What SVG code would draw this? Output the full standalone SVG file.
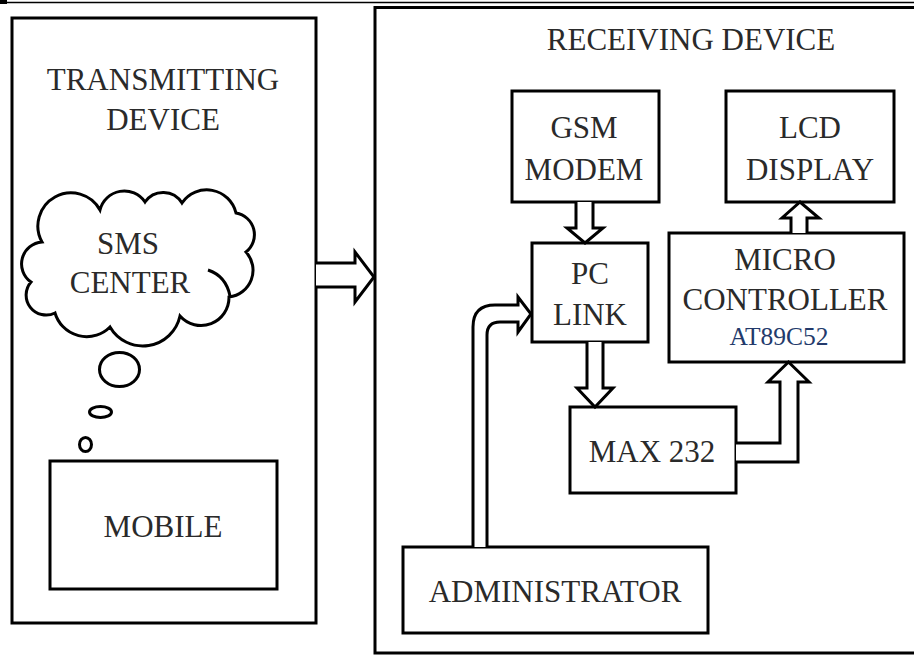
<svg xmlns="http://www.w3.org/2000/svg" width="914" height="655" viewBox="0 0 914 655">
<style>
.box{fill:none;stroke:#000;stroke-width:3}
.arr{fill:#fff;stroke:#000;stroke-width:3;stroke-linejoin:miter}
.t{font-size:31px;fill:#2a2a2a;text-anchor:middle}
.s{font-size:25.5px;fill:#233a6b;text-anchor:middle}
</style>
<rect width="914" height="655" fill="#fff"/>
<line x1="0" y1="2.5" x2="914" y2="2.5" stroke="#000" stroke-width="1.5"/>
<rect x="0" y="0" width="7" height="4" fill="#000"/>

<g id="transmitting-device" font-family="Liberation Serif, Times New Roman, serif">
<rect class="box" x="12" y="18" width="304" height="605"/>
<text class="t" x="163" y="90">TRANSMITTING</text>
<text class="t" x="163" y="130">DEVICE</text>
</g>

<g id="sms-center" font-family="Liberation Serif, Times New Roman, serif">
<path class="box" stroke-width="2.8" fill="#fff" d="M42,242 A33,33 0 0 1 100,210 A25,25 0 0 1 145,202 A22,22 0 0 1 182,203 A30,30 0 0 1 236,213 A22,22 0 0 1 246,252 A27,27 0 0 1 229,297 A28,28 0 0 1 180,316 A38,38 0 0 1 110,327 A33,33 0 0 1 55,313 A20,20 0 0 1 31,282 A22,22 0 0 1 42,242 Z"/>
<path class="box" stroke-width="2.8" d="M208,270 Q226,276 230,296"/>
<ellipse class="box" stroke-width="2.5" cx="119.5" cy="369.5" rx="20" ry="17"/>
<ellipse class="box" stroke-width="2.5" cx="100.5" cy="412" rx="11" ry="5.5"/>
<ellipse class="box" stroke-width="2.5" cx="85.5" cy="444.5" rx="6" ry="7"/>
<text class="t" x="128" y="254">SMS</text>
<text class="t" x="130" y="293">CENTER</text>
</g>

<g id="mobile" font-family="Liberation Serif, Times New Roman, serif">
<rect class="box" x="50" y="461" width="227" height="128"/>
<text class="t" x="163" y="537">MOBILE</text>
</g>

<g id="receiving-device" font-family="Liberation Serif, Times New Roman, serif">
<path class="box" d="M914,7.5 H375 V653 H914"/>
<text class="t" x="691" y="50">RECEIVING DEVICE</text>
</g>

<g id="gsm-modem" font-family="Liberation Serif, Times New Roman, serif">
<rect class="box" x="512" y="91" width="147" height="111"/>
<text class="t" x="584" y="138">GSM</text>
<text class="t" x="584" y="180">MODEM</text>
</g>

<g id="lcd-display" font-family="Liberation Serif, Times New Roman, serif">
<rect class="box" x="726" y="91" width="168" height="111"/>
<text class="t" x="810" y="138">LCD</text>
<text class="t" x="810" y="180">DISPLAY</text>
</g>

<g id="pc-link" font-family="Liberation Serif, Times New Roman, serif">
<rect class="box" x="532" y="243" width="116" height="99"/>
<text class="t" x="590" y="284">PC</text>
<text class="t" x="590" y="325">LINK</text>
</g>

<g id="microcontroller" font-family="Liberation Serif, Times New Roman, serif">
<rect class="box" x="669" y="233" width="235" height="129"/>
<text class="t" x="785" y="270">MICRO</text>
<text class="t" x="785" y="310">CONTROLLER</text>
<text class="s" x="779" y="345">AT89C52</text>
</g>

<g id="max232" font-family="Liberation Serif, Times New Roman, serif">
<rect class="box" x="570" y="407" width="166" height="86"/>
<text class="t" x="652" y="462">MAX 232</text>
</g>

<g id="administrator" font-family="Liberation Serif, Times New Roman, serif">
<rect class="box" x="403" y="547" width="305" height="86"/>
<text class="t" x="555" y="602">ADMINISTRATOR</text>
</g>

<g id="connectors">
<path class="arr" d="M316,263 L355,263 L355,252 L374,277 L355,302 L355,287 L316,287"/>
<path class="arr" d="M576,202 L576,228 L567,228 L585,243 L603,228 L593,228 L593,202"/>
<path class="arr" d="M587,342 L587,388 L577,388 L595,407 L613,388 L603,388 L603,342"/>
<path class="arr" d="M791,233 L791,218 L782,218 L800,202 L819,218 L807,218 L807,233"/>
<path class="arr" d="M736,443 L780,443 L780,382 L768,382 L788.5,362 L809,382 L798,382 L798,462 L736,462"/>
<path class="arr" d="M473,547 L473,327 Q473,305 495,305 L518,305 L518,297 L531,314 L518,332 L518,322 L500,322 Q487,322 487,335 L487,547"/>
</g>
</svg>
